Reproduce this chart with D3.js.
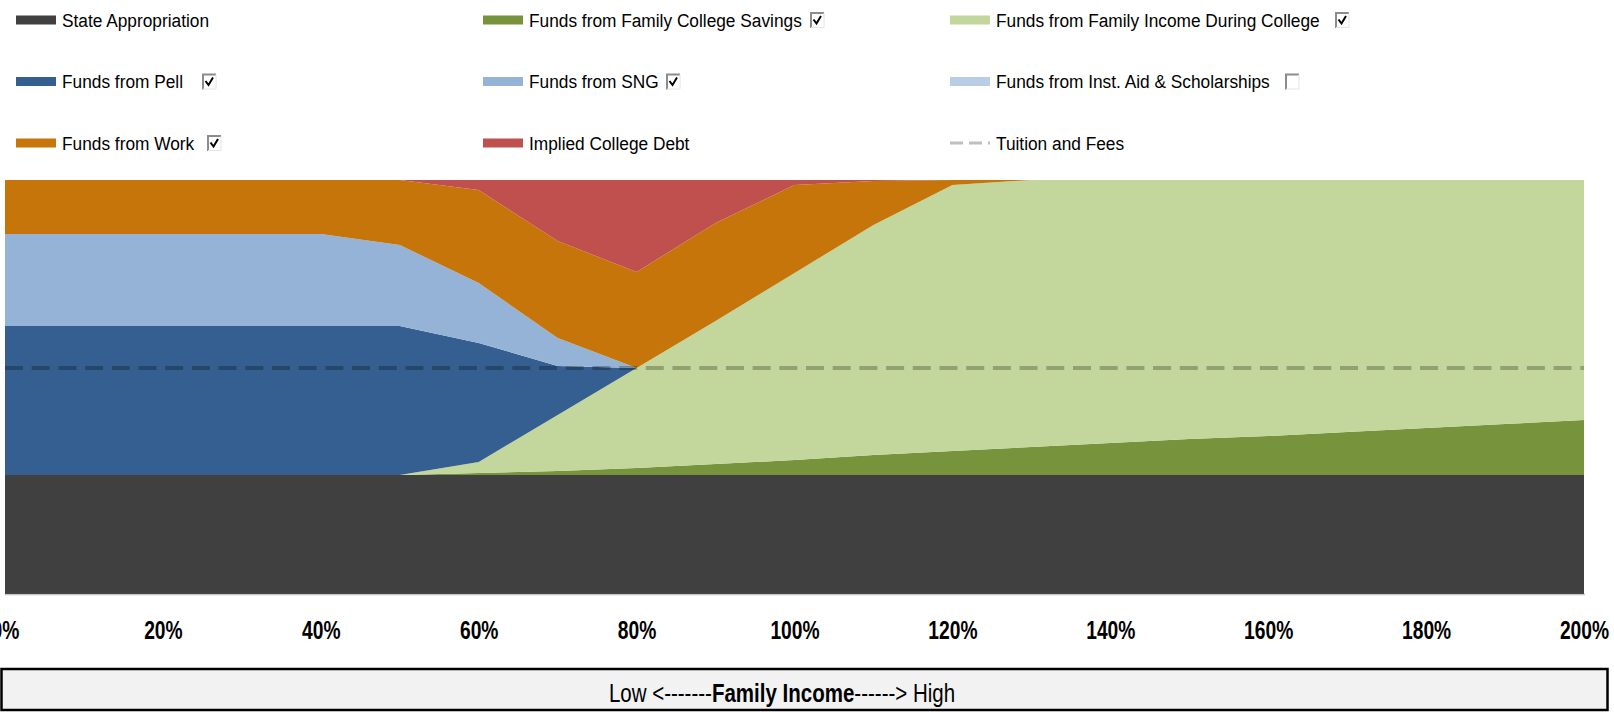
<!DOCTYPE html>
<html>
<head>
<meta charset="utf-8">
<script src="https://cdn.jsdelivr.net/npm/d3@7"></script>
<style>
  body { margin: 0; background: #fff; }
  svg { display: block; }
</style>
</head>
<body>
<div id="chart"></div>
<script>

// family income as % of median, one column every 10%
var incomeLevels = [0, 10, 20, 30, 40, 50, 60, 70, 80, 90, 100, 110, 120, 130, 140, 150, 160, 170, 180, 190, 200];

// dollars per student
var stateAppropriation = [5950, 5950, 5950, 5950, 5950, 5950, 5950, 5950, 5950, 5950, 5950, 5950, 5950, 5950, 5950, 5950, 5950, 5950, 5950, 5950, 5950];
var familySavings = [0, 0, 0, 0, 0, 0, 100, 200, 350, 550, 750, 1000, 1200, 1400, 1600, 1800, 1950, 2150, 2350, 2550, 2750];
var familyIncome = [0, 0, 0, 0, 0, 0, 550, 2800, 5000, 7150, 9350, 11500, 13300, 13350, 13150, 12950, 12800, 12600, 12400, 12200, 12000];
var pell = [7450, 7450, 7450, 7450, 7450, 7450, 5950, 2450, 0, 0, 0, 0, 0, 0, 0, 0, 0, 0, 0, 0, 0];
var sng = [4600, 4600, 4600, 4600, 4600, 4050, 3000, 1400, 0, 0, 0, 0, 0, 0, 0, 0, 0, 0, 0, 0, 0];
var instAid = [0, 0, 0, 0, 0, 0, 0, 0, 0, 0, 0, 0, 0, 0, 0, 0, 0, 0, 0, 0, 0];
var work = [2700, 2700, 2700, 2700, 2700, 3250, 4650, 4850, 4800, 4900, 4400, 2200, 250, 0, 0, 0, 0, 0, 0, 0, 0];
var debt = [0, 0, 0, 0, 0, 0, 500, 3050, 4600, 2150, 250, 50, 0, 0, 0, 0, 0, 0, 0, 0, 0];

var tuitionAndFees = 11300;

var xTicks = [0, 20, 40, 60, 80, 100, 120, 140, 160, 180, 200];

// series in stacking order, bottom to top
var seriesKeys = ['state', 'savings', 'income', 'pell', 'sng', 'inst', 'work', 'debt'];
var seriesNames = ['State Appropriation', 'Funds from Family College Savings', 'Funds from Family Income During College',
                   'Funds from Pell', 'Funds from SNG', 'Funds from Inst. Aid & Scholarships',
                   'Funds from Work', 'Implied College Debt'];
var seriesValues = [stateAppropriation, familySavings, familyIncome, pell, sng, instAid, work, debt];
var seriesColors = ['#404040', '#77933c', '#c3d69b', '#355e91', '#95b3d7', '#b9cde5', '#c5750a', '#c0504d'];

// checkbox state next to legend entries (null = no checkbox)
var seriesChecked = [null, true, true, true, true, false, true, null];


var width = 1614, height = 712;
var margin = {top: 180, left: 5, right: 30, bottom: 118};

var svg = d3.select('#chart')
  .append('svg')
    .attr('width', width)
    .attr('height', height);

// build rows for d3.stack
var rows = incomeLevels.map(function(lvl, i) {
  var r = {level: lvl};
  seriesKeys.forEach(function(k, j) { r[k] = seriesValues[j][i]; });
  return r;
});

var stack = d3.stack().keys(seriesKeys);
var layers = stack(rows);

var total = d3.max(layers[layers.length - 1], function(d) { return d[1]; });

var x = d3.scaleLinear()
    .domain([0, 200])
    .range([margin.left, width - margin.right]);

var y = d3.scaleLinear()
    .domain([0, total])
    .range([height - margin.bottom, margin.top]);

var area = d3.area()
    .x(function(d) { return x(d.data.level); })
    .y0(function(d) { return y(d[0]); })
    .y1(function(d) { return y(d[1]); });

svg.append('g')
  .selectAll('path')
  .data(layers)
  .enter()
  .append('path')
    .attr('d', area)
    .attr('fill', function(d, i) { return seriesColors[i]; });

// tuition line
svg.append('line')
    .attr('x1', x(0))
    .attr('x2', x(200))
    .attr('y1', y(tuitionAndFees))
    .attr('y2', y(tuitionAndFees))
    .attr('stroke', '#000')
    .attr('stroke-opacity', 0.25)
    .attr('stroke-width', 4)
    .attr('stroke-dasharray', '18,8.7');

// x axis
var xAxis = svg.append('g')
    .attr('transform', `translate(0,${height - margin.bottom})`)
    .call(d3.axisBottom(x).tickValues(xTicks).tickSize(0).tickPadding(0).tickFormat(function(d) { return d + '%'; }));

xAxis.select('.domain')
    .attr('stroke', '#8a8a8a')
    .attr('stroke-width', 1.5)
    .attr('stroke-dasharray', '1,1');

xAxis.selectAll('text')
    .attr('y', 45)
    .attr('dy', 0)
    .attr('transform', 'scale(0.74,1)')
    .style('font-family', 'Liberation Sans, Arial, sans-serif')
    .style('font-weight', 'bold')
    .style('font-size', '26px')
    .style('fill', '#000');


// legend
var legendCols = [16, 483, 950];
var legendRows = [20, 81.5, 143];
var checkboxX = [null, 810, 1335, 202, 666, 1285, 207, null];

var legend = svg.append('g')
    .style('font-family', 'Liberation Sans, Arial, sans-serif')
    .style('font-size', '19px');

function legendLabel(g, lx, ly, txt) {
  g.append('text')
      .attr('transform', `translate(${lx + 46},${ly + 6.5}) scale(0.91,1)`)
      .attr('fill', '#000')
      .text(txt);
}

seriesNames.forEach(function(name, i) {
  var col = i % 3, row = Math.floor(i / 3);
  var lx = legendCols[col], ly = legendRows[row];
  var item = legend.append('g');

  item.append('rect')
      .attr('x', lx)
      .attr('y', ly - 4.5)
      .attr('width', 40)
      .attr('height', 9)
      .attr('fill', seriesColors[i]);

  legendLabel(item, lx, ly, name);

  if (seriesChecked[i] !== null) {
    var bx = checkboxX[i], by = ly - 8;
    var cb = item.append('g').attr('transform', `translate(${bx},${by})`);
    cb.append('rect')
        .attr('width', 14).attr('height', 16)
        .attr('fill', '#fff');
    // inset look: dark top/left, light bottom/right
    cb.append('path')
        .attr('d', 'M1,16 V1 H14')
        .attr('fill', 'none')
        .attr('stroke', '#8c8c8c')
        .attr('stroke-width', 2);
    cb.append('path')
        .attr('d', 'M14,1 V15.5 H1')
        .attr('fill', 'none')
        .attr('stroke', '#e4e4e4')
        .attr('stroke-width', 1);
    if (seriesChecked[i]) {
      cb.append('path')
          .attr('d', 'M3.5,7.5 L6.5,11.5 L11,4')
          .attr('fill', 'none')
          .attr('stroke', '#000')
          .attr('stroke-width', 2);
    }
  }
});

// tuition legend entry
var tl = legend.append('g');
tl.append('line')
    .attr('x1', legendCols[2])
    .attr('x2', legendCols[2] + 40)
    .attr('y1', legendRows[2])
    .attr('y2', legendRows[2])
    .attr('stroke', '#000')
    .attr('stroke-opacity', 0.25)
    .attr('stroke-width', 3)
    .attr('stroke-dasharray', '13,6');
legendLabel(tl, legendCols[2], legendRows[2], 'Tuition and Fees');


// bottom caption box
svg.append('rect')
    .attr('x', 1.5)
    .attr('y', 669)
    .attr('width', 1606)
    .attr('height', 41)
    .attr('fill', '#f2f2f2')
    .attr('stroke', '#000')
    .attr('stroke-width', 2.5);

var caption = svg.append('g')
    .attr('transform', 'translate(782,702) scale(0.82,1)')
  .append('text')
    .attr('text-anchor', 'middle')
    .style('font-family', 'Liberation Sans, Arial, sans-serif')
    .style('font-size', '25px')
    .attr('fill', '#000');

caption.append('tspan').text('Low <-------');
caption.append('tspan').style('font-weight', 'bold').text('Family Income');
caption.append('tspan').text('------> High');

</script>
</body>
</html>
